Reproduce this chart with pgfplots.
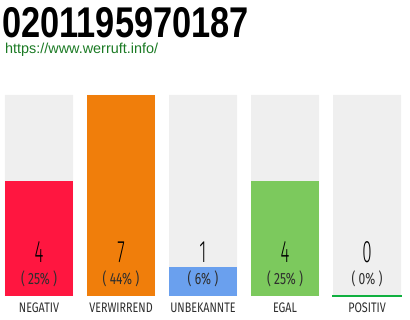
\documentclass[border=0pt]{standalone}
\usepackage{fontspec}
\usepackage{pgfplots}
\pgfplotsset{compat=1.18}
\setmainfont{Liberation Sans}
\newfontfamily\titlefont[FakeStretch=0.8]{Liberation Sans Bold}
\newfontfamily\countfont[FakeStretch=0.55]{Fira Sans Light}
\newfontfamily\sharefont[FakeStretch=0.74]{Fira Sans}
\newfontfamily\catfont[FakeStretch=0.78]{Fira Sans}

\definecolor{trackgray}{HTML}{EFEFEF}
\definecolor{cneg}{HTML}{FF1640}
\definecolor{cconf}{HTML}{F07E0B}
\definecolor{cunk}{HTML}{6AA0EE}
\definecolor{cequal}{HTML}{7CC95D}
\definecolor{cpos}{HTML}{10B040}
\definecolor{urlgreen}{HTML}{1B7A24}
\definecolor{labelgray}{HTML}{2E2E2E}

\tikzset{
  count/.style={font=\countfont\fontsize{31}{31}\selectfont, text=black, inner sep=0},
  share/.style={font=\sharefont\fontsize{16.3}{16.3}\selectfont, text=labelgray, inner sep=0},
  cat/.style={font=\catfont\fontsize{13.8}{13.8}\selectfont, text=labelgray, inner sep=0},
}

\begin{document}
\begin{tikzpicture}
\begin{axis}[
  x=82pt, y=28.714pt,
  xmin=-0.4756, xmax=4.5244,
  ymin=-0.8358, ymax=10.3085,
  hide axis, clip=false,
  ybar, bar width=68pt, bar shift=0pt,
]
% grey tracks (full scale = 7 votes)
\addplot[fill=trackgray, draw=none] coordinates {(0,7) (1,7) (2,7) (3,7) (4,7)};
% votes per rating
\addplot[fill=cneg,   draw=none] coordinates {(0,4)};
\addplot[fill=cconf,  draw=none] coordinates {(1,7)};
\addplot[fill=cunk,   draw=none] coordinates {(2,1)};
\addplot[fill=cequal, draw=none] coordinates {(3,4)};
\addplot[fill=cpos, draw=cpos, line width=1.2pt] coordinates {(4,0.03)};

% counts and shares
\node[count] at (axis cs:0,1.532) {4};
\node[count] at (axis cs:1,1.532) {7};
\node[count] at (axis cs:2,1.532) {1};
\node[count] at (axis cs:3,1.532) {4};
\node[count] at (axis cs:4,1.532) {0};
\node[share] at (axis cs:0,0.592) {( 25\% )};
\node[share] at (axis cs:1,0.592) {( 44\% )};
\node[share] at (axis cs:2,0.592) {( 6\% )};
\node[share] at (axis cs:3,0.592) {( 25\% )};
\node[share] at (axis cs:4,0.592) {( 0\% )};
% category names
\node[cat] at (axis cs:0,-0.4005) {NEGATIV};
\node[cat] at (axis cs:1,-0.4005) {VERWIRREND};
\node[cat] at (axis cs:2,-0.4005) {UNBEKANNTE};
\node[cat] at (axis cs:3,-0.4005) {EGAL};
\node[cat] at (axis cs:4,-0.4005) {POSITIV};
% heading
\node[font=\titlefont\fontsize{43}{43}\selectfont, anchor=base west, inner sep=0]
  at (axis cs:-0.4512,8.985) {0201195970187};
\node[font=\fontsize{14.4}{14.4}\selectfont, text=urlgreen, anchor=base west, inner sep=0]
  at (axis cs:-0.4146,8.4625) {https://www.werruft.info/};
\end{axis}
\path (current axis.south west) rectangle (current axis.north east);
\end{tikzpicture}
\end{document}
